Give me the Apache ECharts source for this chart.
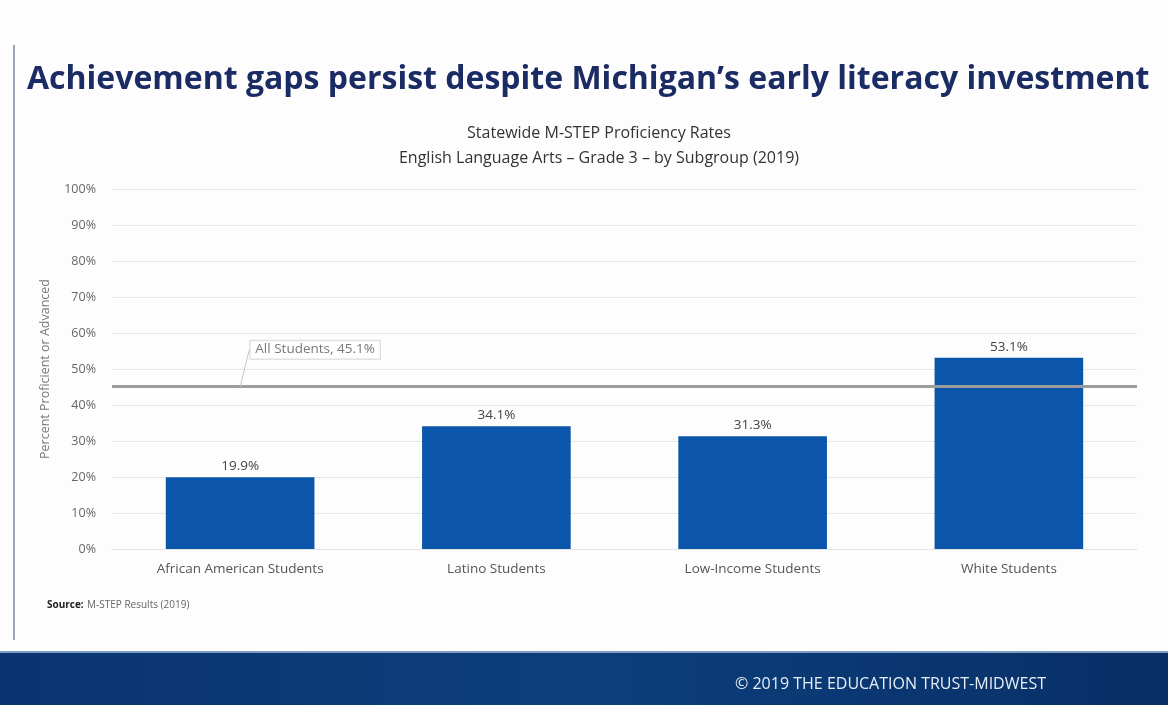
<!DOCTYPE html>
<html>
<head>
<meta charset="utf-8">
<script src="https://cdn.jsdelivr.net/npm/echarts@6/dist/echarts.min.js"></script>
<style>
html,body{margin:0;padding:0;background:#fdfdfd;}
#c{width:1168px;height:705px;}
</style>
</head>
<body>
<div id="c"></div>
<script>
const categories = ['African American Students', 'Latino Students', 'Low-Income Students', 'White Students'];
const proficiency = [19.9, 34.1, 31.3, 53.1];
const allStudents = 45.1;
const yTicks = [0, 10, 20, 30, 40, 50, 60, 70, 80, 90, 100];

const chart = echarts.init(document.getElementById('c'), null, {renderer: 'canvas'});
const font = 'Open Sans, Lato, sans-serif';

chart.setOption({
  backgroundColor: '#fdfdfd',
  animation: false,
  title: [
    {
      text: 'Achievement gaps persist despite Michigan\u2019s early literacy investment',
      left: 22, top: 59,
      textStyle: {fontFamily: 'Open Sans, sans-serif', fontWeight: 'bold', fontSize: 32, color: '#1b2b63'}
    },
    {
      text: 'Statewide M-STEP Proficiency Rates\nEnglish Language Arts \u2013 Grade 3 \u2013 by Subgroup (2019)',
      left: 594, top: 116, textAlign: 'center',
      textStyle: {fontFamily: font, fontWeight: 'normal', fontSize: 16, color: '#333', lineHeight: 25, align: 'center'}
    }
  ],
  grid: {left: 112, right: 31, top: 189, bottom: 156},
  xAxis: {
    type: 'category',
    data: categories,
    axisLine: {show: true, lineStyle: {color: '#e4e4e4'}},
    axisTick: {show: false},
    axisLabel: {color: '#555', fontFamily: font, fontSize: 13.5, margin: 13}
  },
  yAxis: {
    type: 'value',
    min: yTicks[0], max: yTicks[yTicks.length - 1], interval: 10,
    name: 'Percent Proficient or Advanced',
    nameLocation: 'middle', nameGap: 60, nameRotate: 90,
    nameTextStyle: {color: '#777', fontFamily: font, fontSize: 12.5},
    axisLine: {show: false}, axisTick: {show: false},
    axisLabel: {color: '#666', fontFamily: font, fontSize: 12.5, margin: 16, formatter: v => v + '%'},
    splitLine: {lineStyle: {color: '#e6e6e6', width: 1}}
  },
  series: [
    {
      type: 'bar',
      data: proficiency,
      barWidth: '58%',
      itemStyle: {color: '#0b56ab'},
      label: {show: true, position: 'top', distance: 4, color: '#444', fontFamily: font, fontSize: 13.5,
        formatter: p => p.value.toFixed(1) + '%'},
      markLine: {
        silent: true, symbol: 'none', z: 5,
        label: {show: false},
        lineStyle: {color: '#9c9c9c', width: 3, type: 'solid'},
        data: [{yAxis: allStudents}]
      }
    },
    {
      type: 'scatter',
      data: [[0, allStudents]],
      symbolSize: 0,
      z: 6,
      label: {
        show: true,
        formatter: () => 'All Students, ' + allStudents.toFixed(1) + '%',
        color: '#555', fontFamily: font, fontSize: 13.5,
        backgroundColor: '#fff', borderColor: '#d0d0d0', borderWidth: 1,
        padding: [2, 5]
      },
      labelLayout: {dx: 75, dy: -37},
      labelLine: {show: true, lineStyle: {color: '#c8c8c8', width: 1}}
    }
  ],
  graphic: [
    {type: 'rect', left: 13, top: 45, shape: {width: 2, height: 595}, style: {fill: '#9aa6b8'}},
    {type: 'rect', left: 0, top: 652, shape: {width: 1168, height: 53},
      style: {fill: new echarts.graphic.LinearGradient(0, 0, 1, 0, [
        {offset: 0, color: '#0a3470'}, {offset: 0.5, color: '#0c3f7c'}, {offset: 1, color: '#082f66'}])}},
    {type: 'rect', left: 0, top: 651, shape: {width: 1168, height: 2}, style: {fill: '#7f9cc4'}},
    {type: 'text', left: 735, top: 676,
      style: {text: '\u00a9 2019 THE EDUCATION TRUST-MIDWEST', fill: '#e8eef6', fontFamily: font, fontSize: 16}},
    {type: 'text', left: 47, top: 599,
      style: {rich: {b: {fontWeight: 'bold', fontSize: 10, fill: '#222', fontFamily: font}, n: {fontSize: 10, fill: '#666', fontFamily: font}},
        text: '{b|Source:} {n|M-STEP Results (2019)}'}}
  ]
});
</script>
</body>
</html>
